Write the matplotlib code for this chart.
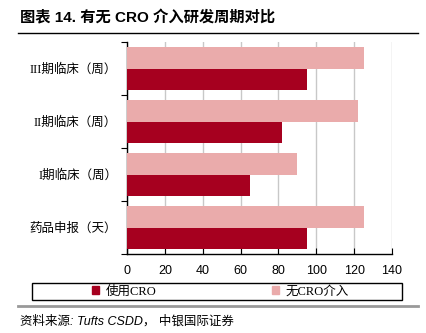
import matplotlib
matplotlib.use("Agg")
from matplotlib import pyplot as plt
from matplotlib.lines import Line2D
import numpy as np

categories = ["药品申报（天）", "I期临床（周）", "II期临床（周）", "III期临床（周）"]
with_cro = [95, 65, 82, 95]
without_cro = [125, 90, 122, 125]
xticks = [0, 20, 40, 60, 80, 100, 120, 140]

dark = "#A6001F"
pink = "#EAABAB"
serif_cjk = ["Liberation Serif", "Noto Sans CJK SC"]
sans_cjk = ["Liberation Sans", "Noto Sans CJK SC"]

fig = plt.figure(figsize=(4.27, 3.33), dpi=100)
W, H = 427, 333
ax = fig.add_axes([127 / W, 1 - 254 / H, 265 / W, 212 / H])

y = np.arange(len(categories))
h = 0.4
ax.barh(y - h / 2, with_cro, height=h, color=dark, zorder=3)
ax.barh(y + h / 2, without_cro, height=h, color=pink, zorder=3)

ax.set_xlim(0, 140)
ax.set_ylim(-0.5, len(categories) - 0.5)
ax.set_xticks(xticks)
ax.set_xticklabels([str(v) for v in xticks], family="Liberation Sans", fontsize=9)
ax.xaxis.grid(True, color="#C8C8C8", linewidth=1, zorder=0)
ax.tick_params(axis="x", direction="in", length=4, pad=8)

# category labels sit between the boundary ticks
ax.set_yticks(np.arange(-0.5, len(categories), 1.0))
ax.set_yticklabels([])
ax.set_yticks(y, minor=True)
ax.set_yticklabels(categories, minor=True, family=serif_cjk, fontsize=9)
ax.tick_params(axis="y", which="major", direction="out", length=4)
ax.tick_params(axis="y", which="minor", length=0, pad=7)

for s in ["top", "right"]:
    ax.spines[s].set_visible(False)
ax.spines["left"].set_linewidth(1)
ax.spines["bottom"].set_linewidth(1)

# title and rules
fig.text(20 / W, 1 - 18 / H, "图表 14. 有无 CRO 介入研发周期对比", family=sans_cjk,
         fontsize=11, fontweight="bold", va="center", ha="left")
fig.add_artist(Line2D([18 / W, 418 / W], [1 - 33 / H, 1 - 33 / H], color="black", linewidth=1))
fig.add_artist(Line2D([18 / W, 418 / W], [1 - 306 / H, 1 - 306 / H], color="#999999", linewidth=2))

# legend: framed box under the plot, entries centred in each half
box = plt.Rectangle((32 / W, 1 - 300 / H), 370 / W, 17 / H, transform=fig.transFigure,
                    facecolor="white", edgecolor="black", linewidth=1)
fig.add_artist(box)
handles = [plt.Rectangle((0, 0), 1, 1, color=dark), plt.Rectangle((0, 0), 1, 1, color=pink)]
leg = fig.legend(handles, ["使用CRO", "无CRO介入"], loc="center left",
                 bbox_to_anchor=(92 / W, 1 - 291.5 / H), ncol=2, frameon=False,
                 prop={"family": serif_cjk, "size": 9},
                 handlelength=0.6, handleheight=0.6, handletextpad=0.5,
                 columnspacing=9.2, borderpad=0, borderaxespad=0)

fig.text(20 / W, 1 - 321 / H, "资料来源: Tufts CSDD， 中银国际证券", family=sans_cjk,
         fontsize=9, style="italic", va="center", ha="left")

fig.savefig("out.png", dpi=100)
plt.close(fig)
